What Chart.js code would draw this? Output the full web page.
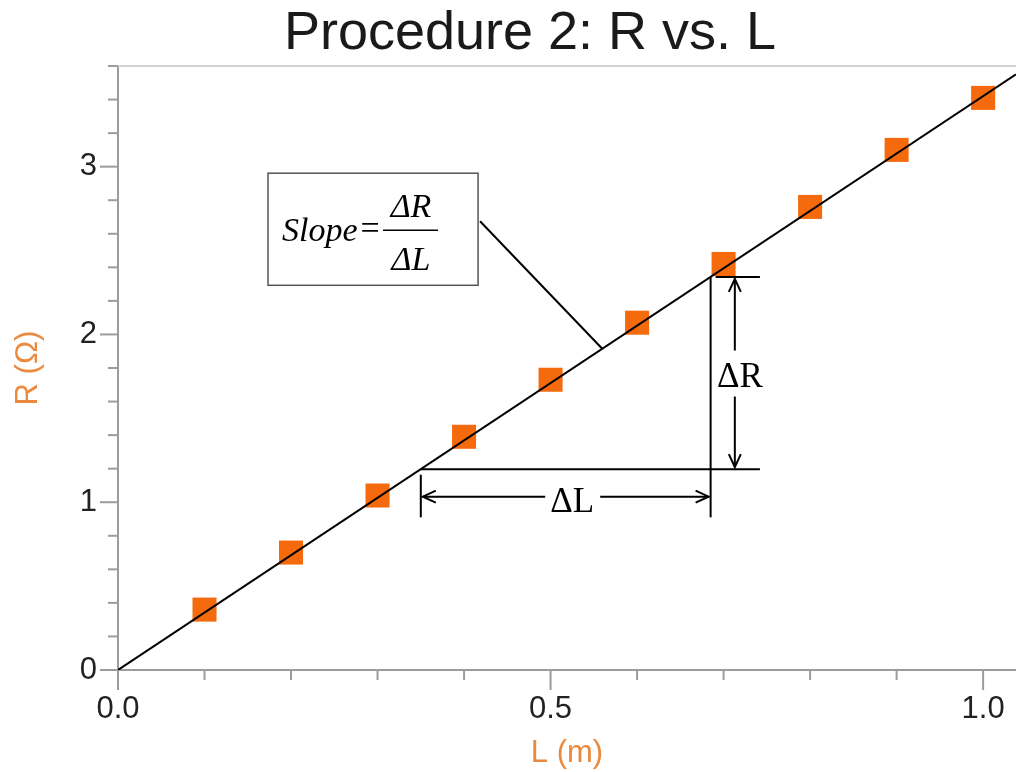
<!DOCTYPE html>
<html>
<head>
<meta charset="utf-8">
<script src="https://cdn.jsdelivr.net/npm/chart.js@4.4.0/dist/chart.umd.min.js"></script>
<style>
  html, body { margin: 0; padding: 0; background: #fff; }
  #wrap { width: 1016px; height: 772px; }
</style>
</head>
<body>
<div id="wrap"><canvas id="chart"></canvas></div>
<script>
// ============ DATA ============
const lengths = [0.1, 0.2, 0.3, 0.4, 0.5, 0.6, 0.7, 0.8, 0.9, 1.0];
const resistances = [0.36, 0.70, 1.04, 1.39, 1.73, 2.07, 2.42, 2.76, 3.10, 3.41];
const fitL = [0, 1.038];
const fitR = [0, 3.55];
const xTickValues = [0, 0.1, 0.2, 0.3, 0.4, 0.5, 0.6, 0.7, 0.8, 0.9, 1.0];
const xTickLabels = ['0.0', '', '', '', '', '0.5', '', '', '', '', '1.0'];
const yTickValues = [0, 0.2, 0.4, 0.6, 0.8, 1, 1.2, 1.4, 1.6, 1.8, 2, 2.2, 2.4, 2.6, 2.8, 3, 3.2, 3.4, 3.6];
const yTickLabels = ['0', '', '', '', '', '1', '', '', '', '', '2', '', '', '', '', '3', '', '', ''];

// slope triangle, in data units (L, R)
const runL = [0.35, 0.685];
const riseR = [1.197, 2.343];

const ORANGE = '#F66A0E';
const AXIS_ORANGE = '#EB8A3F';
const AXIS_GRAY = '#9c9c9c';
const SANS = '"Liberation Sans", Arial, sans-serif';
const SERIF = '"Liberation Serif", "Times New Roman", serif';

// ============ HELPERS ============
function line(ctx, x1, y1, x2, y2) {
  ctx.beginPath();
  ctx.moveTo(x1, y1);
  ctx.lineTo(x2, y2);
  ctx.stroke();
}
function arrowHead(ctx, x, y, dx, dy) {
  const len = 13, half = 6;
  ctx.beginPath();
  ctx.moveTo(x - dx * len - dy * half, y - dy * len + dx * half);
  ctx.lineTo(x, y);
  ctx.lineTo(x - dx * len + dy * half, y - dy * len - dx * half);
  ctx.stroke();
}

// ============ AXIS TICKS + TITLE ============
const frame = {
  id: 'frame',
  afterDraw(chart) {
    const { ctx, chartArea: a, scales: { x, y } } = chart;
    ctx.save();
    ctx.strokeStyle = '#d2d2d2';
    ctx.lineWidth = 2;
    line(ctx, a.left, a.top, a.right, a.top);

    ctx.strokeStyle = AXIS_GRAY;
    ctx.lineWidth = 2;
    xTickValues.forEach((v, i) => {
      const p = x.getPixelForValue(v);
      line(ctx, p, a.bottom, p, a.bottom + (xTickLabels[i] ? 20 : 10));
    });
    yTickValues.forEach((v, i) => {
      const p = y.getPixelForValue(v);
      line(ctx, a.left, p, a.left - (yTickLabels[i] ? 18 : 10), p);
    });

    ctx.fillStyle = '#1a1a1a';
    ctx.font = '54px ' + SANS;
    ctx.textAlign = 'center';
    ctx.textBaseline = 'middle';
    ctx.fillText('Procedure 2: R vs. L', 530, 34);
    ctx.restore();
  }
};

// ============ SLOPE ANNOTATIONS ============
const slopeNotes = {
  id: 'slopeNotes',
  afterDatasetsDraw(chart) {
    const { ctx, scales: { x, y } } = chart;
    const X = v => x.getPixelForValue(v);
    const Y = v => y.getPixelForValue(v);
    ctx.save();
    ctx.strokeStyle = '#000';
    ctx.fillStyle = '#000';
    ctx.lineWidth = 2;

    const xl = X(runL[0]), xr = X(runL[1]);
    const yb = Y(riseR[0]), yt = Y(riseR[1]);
    const xEnd = X(0.742);

    // triangle legs
    line(ctx, xl, yb, xEnd, yb);
    line(ctx, xr, yt, xr, Y(0.91));
    line(ctx, xr + 5, yt, xEnd, yt);
    line(ctx, xl, Y(1.164), xl, Y(0.91));

    // ΔR arrow
    const xa = X(0.713);
    const yMid = Y(1.755);
    line(ctx, xa, yt + 2, xa, yMid - 25);
    line(ctx, xa, yMid + 21, xa, yb - 2);
    arrowHead(ctx, xa, yt + 2, 0, -1);
    arrowHead(ctx, xa, yb - 2, 0, 1);

    // ΔL arrow
    const ya = Y(1.033);
    const xMid = X(0.525);
    line(ctx, xl + 2, ya, xMid - 27, ya);
    line(ctx, xMid + 28, ya, xr - 2, ya);
    arrowHead(ctx, xl + 2, ya, -1, 0);
    arrowHead(ctx, xr - 2, ya, 1, 0);

    ctx.font = '35px ' + SERIF;
    ctx.textAlign = 'center';
    ctx.textBaseline = 'middle';
    ctx.fillText('\u0394R', X(0.719), yMid + 2);
    ctx.fillText('\u0394L', xMid, Y(1.009) + 2);

    // slope box + leader
    const bx1 = X(0.1734), bx2 = X(0.4162);
    const by1 = Y(2.961), by2 = Y(2.293);
    ctx.lineWidth = 1.5;
    ctx.strokeStyle = '#555';
    ctx.strokeRect(bx1, by1, bx2 - bx1, by2 - by1);
    ctx.strokeStyle = '#000';
    ctx.lineWidth = 2;
    line(ctx, X(0.4185), Y(2.675), X(0.5595), Y(1.916));

    ctx.font = 'italic 34px ' + SERIF;
    ctx.textAlign = 'left';
    ctx.textBaseline = 'alphabetic';
    const sx = bx1 + 14;
    ctx.fillText('Slope', sx, by1 + 68);
    const eqX = sx + ctx.measureText('Slope').width + 3;
    ctx.font = '34px ' + SERIF;
    ctx.fillText('=', eqX, by1 + 66);
    ctx.font = 'italic 34px ' + SERIF;
    ctx.textAlign = 'center';
    const fx = bx1 + 143;
    ctx.fillText('\u0394R', fx, by1 + 44);
    ctx.fillText('\u0394L', fx, by1 + 97);
    ctx.lineWidth = 1.5;
    line(ctx, bx1 + 115, by1 + 57, bx1 + 170, by1 + 57);
    ctx.restore();
  }
};

// ============ CHART ============
new Chart(document.getElementById('chart'), {
  data: {
    datasets: [
      {
        type: 'line',
        data: fitL.map((l, i) => ({ x: l, y: fitR[i] })),
        borderColor: '#000',
        borderWidth: 2,
        pointRadius: 0,
        fill: false,
        order: 1
      },
      {
        type: 'scatter',
        data: lengths.map((l, i) => ({ x: l, y: resistances[i] })),
        pointStyle: 'rect',
        pointRadius: 17,
        pointBackgroundColor: ORANGE,
        pointBorderWidth: 0,
        order: 2
      }
    ]
  },
  options: {
    responsive: true,
    maintainAspectRatio: false,
    animation: false,
    layout: { autoPadding: false, padding: { top: 66, left: 0, right: 0, bottom: 0 } },
    plugins: { legend: { display: false }, tooltip: { enabled: false }, title: { display: false } },
    scales: {
      x: {
        type: 'linear',
        min: 0,
        max: 1.038,
        afterFit: s => { s.height = 102; s.paddingRight = 0; s.paddingLeft = 0; },
        afterBuildTicks: s => { s.ticks = xTickValues.map(v => ({ value: v })); },
        grid: { drawOnChartArea: false, tickLength: 18, tickColor: 'rgba(0,0,0,0)' },
        border: { color: AXIS_GRAY, width: 2 },
        ticks: {
          autoSkip: false,
          maxRotation: 0,
          padding: 3,
          color: '#222',
          font: { family: SANS, size: 31 },
          callback: (v, i) => xTickLabels[i]
        },
        title: {
          display: true,
          text: 'L (m)',
          color: AXIS_ORANGE,
          font: { family: SANS, size: 31 },
          padding: { top: 0, bottom: 0 }
        }
      },
      y: {
        type: 'linear',
        min: 0,
        max: 3.6,
        afterFit: s => { s.width = 118; s.paddingTop = 0; s.paddingBottom = 0; },
        afterBuildTicks: s => { s.ticks = yTickValues.map(v => ({ value: v })); },
        grid: { drawOnChartArea: false, tickLength: 18, tickColor: 'rgba(0,0,0,0)' },
        border: { color: AXIS_GRAY, width: 2 },
        ticks: {
          autoSkip: false,
          padding: 3,
          color: '#222',
          font: { family: SANS, size: 31 },
          callback: (v, i) => yTickLabels[i]
        },
        title: {
          display: true,
          text: 'R (\u03A9)',
          color: AXIS_ORANGE,
          font: { family: SANS, size: 31 },
          padding: { top: 10, bottom: 0 }
        }
      }
    }
  },
  plugins: [frame, slopeNotes]
});
</script>
</body>
</html>
